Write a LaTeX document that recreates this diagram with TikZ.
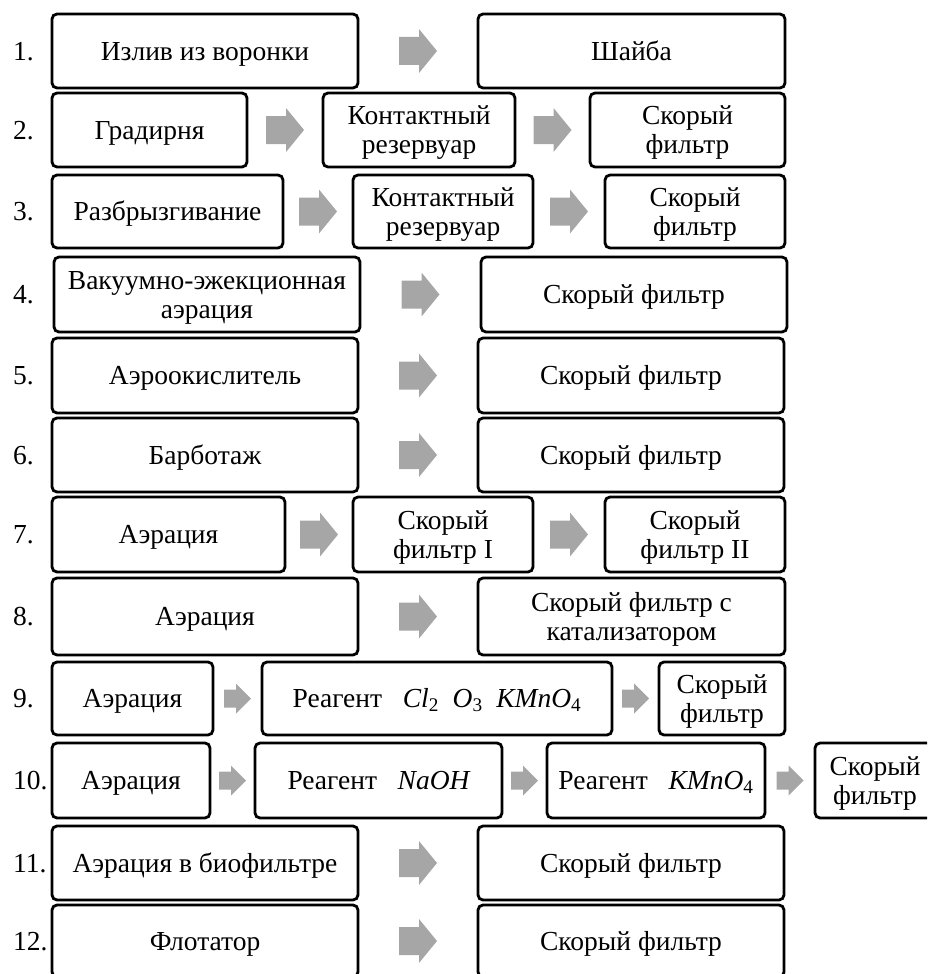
\documentclass[tikz,border=0pt]{standalone}
\usepackage{fontspec}
\setmainfont{Liberation Serif}
\usetikzlibrary{calc}
\definecolor{arrowgray}{RGB}{166,166,166}
\newcommand{\bx}[6]{\node[box, minimum width={#3-#2}, minimum height={#5-#4}] (#1) at ({(#2+#3)/2},{(#4+#5)/2}) {#6};}
\newcommand{\bxx}[6]{\node[box, twoline, minimum width={#3-#2}, minimum height={#5-#4}] (#1) at ({(#2+#3)/2},{(#4+#5)/2}) {#6};}
\newcommand{\num}[2]{\node[numlabel] (n#1) at (13,#2) {#1.};}
\newcommand{\chemit}[1]{{\itshape #1}}
\begin{document}
\begin{tikzpicture}[x=1pt,y=-1pt,
  box/.style={draw=black, line width=2.8pt, rounded corners=5pt, align=center, inner sep=0pt, fill=white, font=\fontsize{27.5}{29}\selectfont, text height=18.2pt, text depth=0pt},
  twoline/.style={text height=47.2pt, text depth=0pt},
  numlabel/.style={anchor=west, inner sep=0pt, font=\fontsize{27.5}{29}\selectfont, text height=18.2pt, text depth=0pt},
  bigarr/.pic={\fill[arrowgray] (-19,-14) -- (1,-14) -- (1,-22) -- (19,0) -- (1,22) -- (1,14) -- (-19,14) -- cycle;},
  smallarr/.pic={\fill[arrowgray] (-13.5,-9) -- (-1.5,-9) -- (-1.5,-15) -- (13.5,0) -- (-1.5,15) -- (-1.5,9) -- (-13.5,9) -- cycle;}
  ]
\useasboundingbox (0,0) rectangle (927,974);
\clip (0,0) rectangle (927,974);
% numbers
\num{1}{51}
\num{2}{130}
\num{3}{211.5}
\num{4}{294.5}
\num{5}{375.5}
\num{6}{455}
\num{7}{534.5}
\num{8}{616.5}
\num{9}{698.5}
\num{10}{780.5}
\num{11}{863}
\num{12}{941}
% row 1
\bx{a1}{52}{358}{14}{88}{Излив из воронки}
\bx{b1}{478}{785}{14}{88}{Шайба}
% row 2
\bx{a2}{52}{247}{93}{167}{Градирня}
\bxx{b2}{323}{515}{93}{167}{Контактный\\резервуар}
\bxx{c2}{590}{785}{93}{167}{Скорый\\фильтр}
% row 3
\bx{a3}{52}{283}{175}{248}{Разбрызгивание}
\bxx{b3}{353}{533}{175}{248}{Контактный\\резервуар}
\bxx{c3}{605}{785}{175}{248}{Скорый\\фильтр}
% row 4
\bxx{a4}{54}{360}{257}{332}{Вакуумно-эжекционная\\аэрация}
\bx{b4}{481}{787}{257}{332}{Скорый фильтр}
% row 5
\bx{a5}{52}{358}{338}{413}{Аэроокислитель}
\bx{b5}{478}{784}{338}{413}{Скорый фильтр}
% row 6
\bx{a6}{52}{358}{418}{492}{Барботаж}
\bx{b6}{478}{784}{418}{492}{Скорый фильтр}
% row 7
\bx{a7}{52}{285}{497}{572}{Аэрация}
\bxx{b7}{353}{533}{497}{572}{Скорый\\фильтр I}
\bxx{c7}{605}{785}{497}{572}{Скорый\\фильтр II}
% row 8
\bx{a8}{52}{358}{578}{655}{Аэрация}
\bxx{b8}{478}{785}{578}{655}{Скорый фильтр с\\катализатором}
% row 9
\bx{a9}{52}{213}{662}{735}{Аэрация}
\bx{b9}{262}{612}{662}{735}{Реагент\ \ \ \chemit{Cl}\textsubscript{2}\ \ \chemit{O}\textsubscript{3}\ \ \chemit{KMnO}\textsubscript{4}}
\bxx{c9}{659}{785}{662}{735}{Скорый\\фильтр}
% row 10
\bx{a10}{52}{210}{743}{818}{Аэрация}
\bx{b10}{255}{502}{743}{818}{Реагент\ \ \ \chemit{NaOH}}
\bx{c10}{547}{765}{743}{818}{Реагент\ \ \ \chemit{KMnO}\textsubscript{4}}
\bxx{d10}{815}{935}{743}{818}{Скорый\\фильтр}
% row 11
\bx{a11}{52}{358}{826}{900}{Аэрация в биофильтре}
\bx{b11}{478}{784}{826}{900}{Скорый фильтр}
% row 12
\bx{a12}{52}{358}{905}{977}{Флотатор}
\bx{b12}{478}{784}{905}{977}{Скорый фильтр}
% arrows
\foreach \r in {1,4,5,6,8,11,12}{
  \pic at ($(a\r.east)!0.5!(b\r.west)$) {bigarr};
}
\foreach \r in {2,3,7}{
  \pic at ($(a\r.east)!0.5!(b\r.west)$) {bigarr};
  \pic at ($(b\r.east)!0.5!(c\r.west)$) {bigarr};
}
\pic at ($(a9.east)!0.5!(b9.west)$) {smallarr};
\pic at ($(b9.east)!0.5!(c9.west)$) {smallarr};
\pic at ($(a10.east)!0.5!(b10.west)$) {smallarr};
\pic at ($(b10.east)!0.5!(c10.west)$) {smallarr};
\pic at ($(c10.east)!0.5!(d10.west)$) {smallarr};
\end{tikzpicture}
\end{document}
